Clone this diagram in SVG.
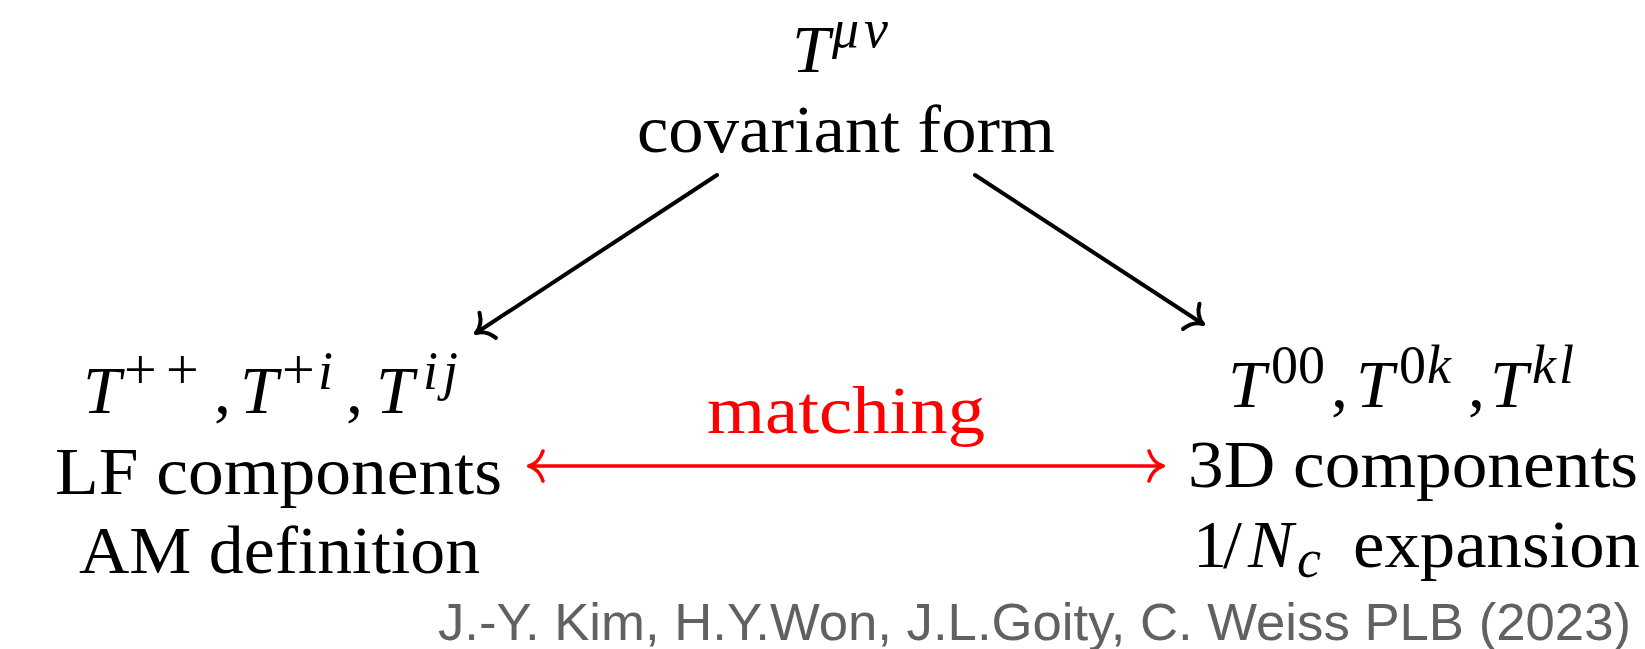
<svg xmlns="http://www.w3.org/2000/svg" width="1645" height="649" viewBox="0 0 1645 649">
<style>
.t{font-family:"Liberation Serif","Times New Roman",serif;font-size:68px;fill:#000}
.it{font-style:italic}
.sup{font-size:54px}
.plus{font-size:58px}
.red{fill:#ff0000}
.credit{font-family:"Liberation Sans",Arial,sans-serif;font-size:52px;fill:#616161}
.arr{fill:none;stroke:#000;stroke-width:4;stroke-linecap:round}
.arrR{fill:none;stroke:#ff0000;stroke-width:3.6;stroke-linecap:round}
</style>
<defs>
<marker id="tipK" viewBox="-20 -20 24 40" markerWidth="24" markerHeight="40" refX="0" refY="0" orient="auto-start-reverse" markerUnits="userSpaceOnUse">
<path d="M-14,-15 Q-10,-3 0,0 Q-10,3 -14,15" fill="none" stroke="#000" stroke-width="4" stroke-linecap="round" stroke-linejoin="round"/>
</marker>
<marker id="tipR" viewBox="-20 -20 24 40" markerWidth="24" markerHeight="40" refX="0" refY="0" orient="auto-start-reverse" markerUnits="userSpaceOnUse">
<path d="M-14,-15 Q-10,-3 0,0 Q-10,3 -14,15" fill="none" stroke="#ff0000" stroke-width="3.6" stroke-linecap="round" stroke-linejoin="round"/>
</marker>
</defs>
<rect width="1645" height="649" fill="#ffffff"/>

<g id="node-covariant">
<text class="t"><tspan class="it" x="792" y="72">T</tspan><tspan class="it sup" x="832" y="47">μ</tspan><tspan class="it sup" x="864" y="47">ν</tspan></text>
<text class="t" x="637" y="152" textLength="418" lengthAdjust="spacingAndGlyphs">covariant form</text>
</g>

<g id="node-lf">
<text class="t"><tspan class="it" x="83" y="413">T</tspan><tspan class="plus" x="124" y="389">+</tspan><tspan class="plus" x="166" y="389">+</tspan><tspan x="214" y="413">,</tspan><tspan class="it" x="240" y="413">T</tspan><tspan class="plus" x="282" y="389">+</tspan><tspan class="it sup" x="318" y="389">i</tspan><tspan x="346" y="413">,</tspan><tspan class="it" x="376" y="413">T</tspan><tspan class="it sup" x="423" y="389">i</tspan><tspan class="it sup" x="443" y="389">j</tspan></text>
<text class="t" x="55" y="494" textLength="447" lengthAdjust="spacingAndGlyphs">LF components</text>
<text class="t" x="79" y="573" textLength="401" lengthAdjust="spacingAndGlyphs">AM definition</text>
</g>

<g id="node-3d">
<text class="t"><tspan class="it" x="1228" y="407">T</tspan><tspan class="sup" x="1271" y="383">00</tspan><tspan x="1331" y="407">,</tspan><tspan class="it" x="1356" y="407">T</tspan><tspan class="sup" x="1399" y="383">0</tspan><tspan class="it sup" x="1427" y="383">k</tspan><tspan x="1468" y="407">,</tspan><tspan class="it" x="1490" y="407">T</tspan><tspan class="it sup" x="1532" y="383">k</tspan><tspan class="it sup" x="1559" y="383">l</tspan></text>
<text class="t" x="1188" y="487" textLength="450" lengthAdjust="spacingAndGlyphs">3D components</text>
<text class="t"><tspan x="1193" y="567">1</tspan><tspan x="1223" y="567">/</tspan><tspan class="it" x="1248" y="567">N</tspan><tspan class="it sup" x="1297" y="577">c</tspan><tspan x="1353" y="567" textLength="287" lengthAdjust="spacingAndGlyphs">expansion</tspan></text>
</g>

<g id="connectors">
<line class="arr" x1="717" y1="175" x2="476" y2="333" marker-end="url(#tipK)"/>
<line class="arr" x1="975" y1="175" x2="1203" y2="324" marker-end="url(#tipK)"/>
<line class="arrR" x1="529" y1="466" x2="1163" y2="466" marker-start="url(#tipR)" marker-end="url(#tipR)"/>
<text class="t red" x="707" y="433" textLength="278" lengthAdjust="spacingAndGlyphs">matching</text>
</g>

<g id="credit">
<text class="credit" x="438" y="640" textLength="1193" lengthAdjust="spacingAndGlyphs">J.-Y. Kim, H.Y.Won, J.L.Goity, C. Weiss PLB (2023)</text>
</g>
</svg>
